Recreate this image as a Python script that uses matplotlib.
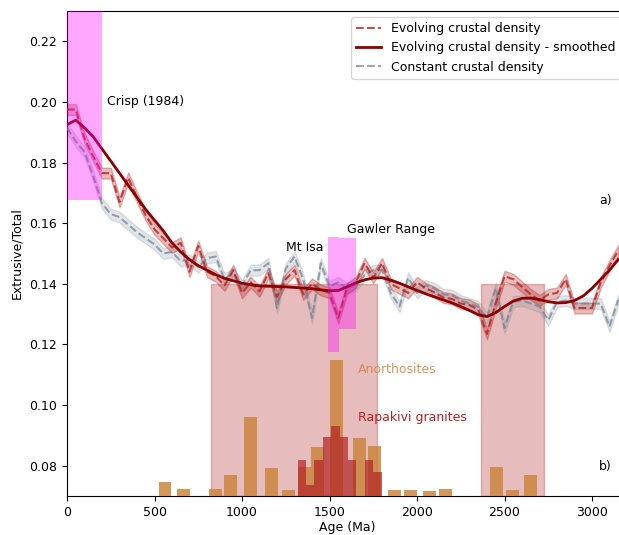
import numpy as np
import matplotlib.pyplot as plt

plt.rcParams['font.size'] = 9

# ages of the model runs (Ma)
age = np.arange(0, 3200, 50)

evolving = [0.1975, 0.1975, 0.188, 0.182, 0.1765, 0.1765, 0.167, 0.175, 0.1685, 0.1625,
            0.158, 0.155, 0.152, 0.1535, 0.144, 0.1525, 0.144, 0.1425, 0.1395, 0.1445,
            0.137, 0.1405, 0.1375, 0.1435, 0.1357, 0.1415, 0.1445, 0.1365, 0.140, 0.138,
            0.137, 0.1287, 0.1385, 0.1405, 0.1468, 0.142, 0.1468, 0.140, 0.1385, 0.137,
            0.1405, 0.1385, 0.1372, 0.1355, 0.135, 0.1335, 0.133, 0.1315, 0.1235, 0.1335,
            0.1425, 0.1415, 0.139, 0.1365, 0.1345, 0.1365, 0.137, 0.1415, 0.132, 0.132,
            0.132, 0.1405, 0.146, 0.151]
evolving_err = 0.0018

constant = [0.1915, 0.187, 0.1835, 0.1755, 0.1665, 0.163, 0.162, 0.1595, 0.157, 0.155,
            0.153, 0.150, 0.1505, 0.1475, 0.148, 0.1455, 0.1485, 0.149, 0.1415, 0.1435,
            0.1395, 0.1445, 0.1445, 0.1468, 0.132, 0.145, 0.149, 0.1415, 0.1287, 0.1468,
            0.1392, 0.1405, 0.1385, 0.1395, 0.1428, 0.1445, 0.1445, 0.137, 0.1325, 0.142,
            0.137, 0.1395, 0.1385, 0.1365, 0.1363, 0.1345, 0.1335, 0.1325, 0.1287, 0.1386,
            0.1254, 0.1341, 0.1345, 0.1335, 0.1325, 0.128, 0.134, 0.1345, 0.1335, 0.1335,
            0.1335, 0.1335, 0.1259, 0.1347]
constant_err = 0.0018

smoothed = [0.1925, 0.194, 0.1915, 0.1885, 0.1845, 0.1805, 0.1765, 0.1725, 0.1685, 0.1645,
            0.161, 0.1575, 0.1535, 0.1505, 0.148, 0.146, 0.1445, 0.143, 0.1418, 0.141,
            0.1402, 0.1397, 0.1393, 0.1392, 0.1391, 0.139, 0.1388, 0.1386, 0.1384, 0.138,
            0.1377, 0.1378, 0.139, 0.1403, 0.1413, 0.1419, 0.142, 0.1412, 0.1402, 0.139,
            0.1378, 0.1367, 0.1357, 0.1347, 0.1337, 0.1325, 0.1312, 0.1298, 0.1292, 0.1305,
            0.1325, 0.1343, 0.1352, 0.1353, 0.1348, 0.1341, 0.1337, 0.1338, 0.1345, 0.136,
            0.1385, 0.1415, 0.1445, 0.148]

# histograms (bar tops in axis units, base at 0.07)
anorth_age = [560, 663, 851, 934, 1048, 1169, 1266, 1356, 1434, 1541, 1669, 1758,
              1872, 1964, 2072, 2164, 2453, 2547, 2650]
anorth_top = [0.0745, 0.0723, 0.0723, 0.0769, 0.0962, 0.0792, 0.0720, 0.0797, 0.0863,
              0.1148, 0.0890, 0.0866, 0.0720, 0.0720, 0.0718, 0.0724, 0.0797, 0.0721, 0.0769]
rapak_age = [1342, 1390, 1438, 1486, 1534, 1582, 1630, 1726, 1774]
rapak_top = [0.0819, 0.0737, 0.0819, 0.0893, 0.0932, 0.0893, 0.0819, 0.0819, 0.0778]

# shaded intervals
events = [(820, 1770), (2365, 2725)]
crisp = (0, 200, 0.1675, 0.23)
mt_isa = (1490, 1555, 0.1175, 0.1555)
gawler = (1555, 1650, 0.125, 0.155)

base = 0.07

fig = plt.figure(figsize=(6.19, 5.35), dpi=100)
ax = fig.add_axes([67/619, 39/535, 560/619, 485/535])

for a, b in events:
    ax.fill_between([a, b], base, 0.14, color='firebrick', alpha=0.3, zorder=1)

ev = np.array(evolving)
co = np.array(constant)
ax.fill_between(age, co - constant_err, co + constant_err, color='slategray', alpha=0.2, zorder=2)
l3, = ax.plot(age, co, '--', color='slategray', alpha=0.7, lw=1.5, zorder=3, label='Constant crustal density')
ax.fill_between(age, ev - evolving_err, ev + evolving_err, color='firebrick', alpha=0.3, zorder=2)
l1, = ax.plot(age, ev, '--', color='firebrick', alpha=0.8, lw=1.5, zorder=3, label='Evolving crustal density')
l2, = ax.plot(age, smoothed, '-', color='darkred', lw=2, zorder=4, label='Evolving crustal density - smoothed')

ax.bar(anorth_age, np.array(anorth_top) - base, bottom=base, width=74,
       color='peru', alpha=0.85, zorder=5)
ax.bar(rapak_age, np.array(rapak_top) - base, bottom=base, width=48,
       color='firebrick', alpha=0.7, zorder=6)

for x0, x1, y0, y1 in [crisp, mt_isa, gawler]:
    ax.fill_between([x0, x1], y0, y1, color='magenta', alpha=0.35, lw=0, zorder=7)

ax.text(229, 0.200, 'Crisp (1984)', va='center')
ax.text(1251, 0.152, 'Mt Isa', va='center')
ax.text(1600, 0.158, 'Gawler Range', va='center')
ax.text(3040, 0.1676, 'a)', va='center')
ax.text(3040, 0.0797, 'b)', va='center')
ax.text(1663, 0.1116, 'Anorthosites', va='center', color='peru', alpha=0.85)
ax.text(1663, 0.0958, 'Rapakivi granites', va='center', color='firebrick')

ax.set_xlim(0, 3200)
ax.set_ylim(0.07, 0.23)
ax.set_xticks([0, 500, 1000, 1500, 2000, 2500, 3000])
ax.set_yticks(np.arange(0.08, 0.23, 0.02))
ax.yaxis.set_major_formatter(plt.FormatStrFormatter('%.2f'))
ax.set_xlabel('Age (Ma)', labelpad=2)
ax.set_ylabel('Extrusive/Total')
ax.legend(handles=[l1, l2, l3], loc='upper right')

fig.savefig('out.png', dpi=100)
